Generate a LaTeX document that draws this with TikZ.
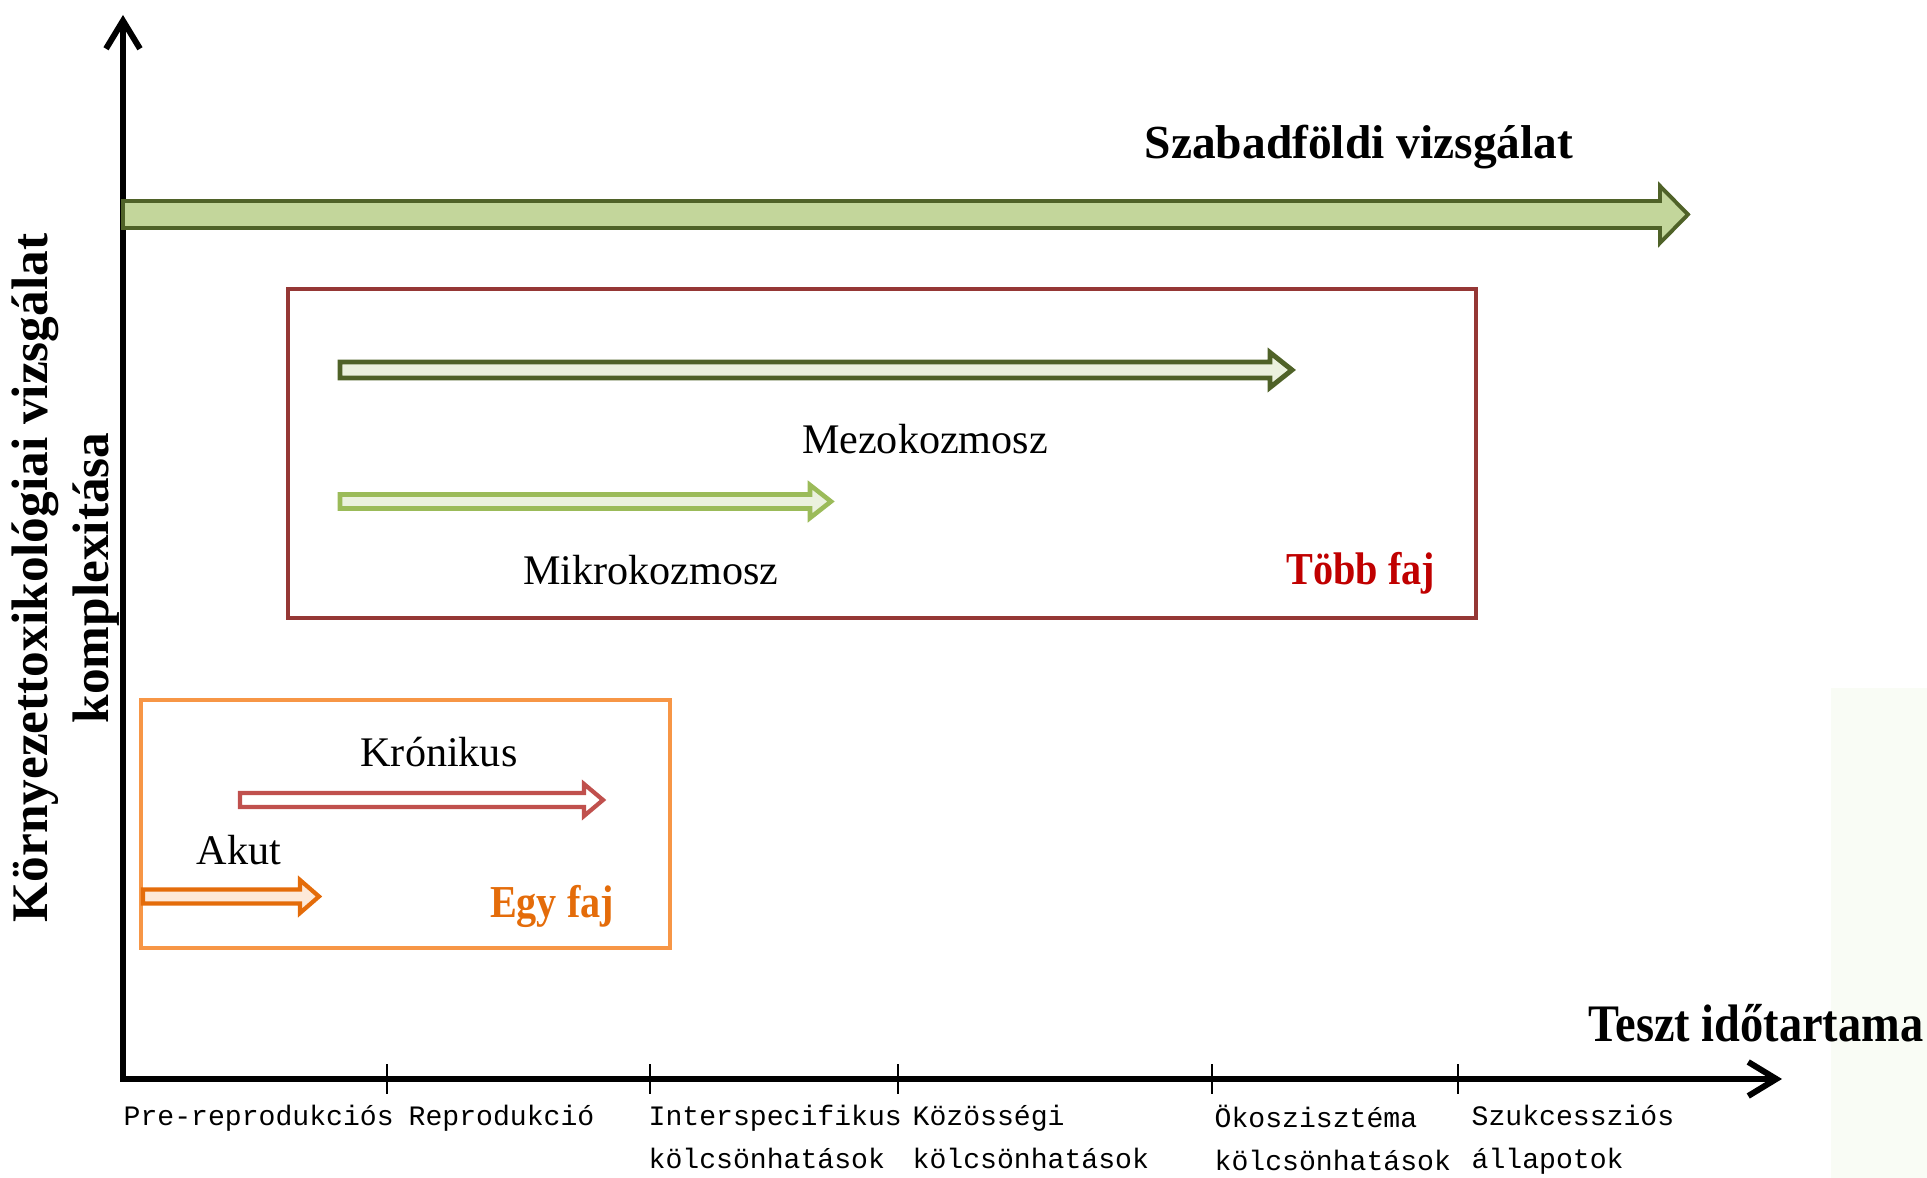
\documentclass[tikz,border=0pt]{standalone}
\usepackage{fontspec}
\setmainfont{Liberation Serif}
\newfontfamily\tickfont{Liberation Mono}
\newfontfamily\narrowfont[FakeStretch=0.88]{Liberation Serif}
\usetikzlibrary{arrows.meta}

\definecolor{olivedark}{HTML}{4F6228}
\definecolor{olivefill}{HTML}{C3D69B}
\definecolor{olivelight}{HTML}{9BBB59}
\definecolor{palegreen}{HTML}{EBF1DE}
\definecolor{brickred}{HTML}{953735}
\definecolor{rosered}{HTML}{C0504D}
\definecolor{darkred}{HTML}{C00000}
\definecolor{orangebox}{HTML}{F79646}
\definecolor{orangedark}{HTML}{E46C0A}
\definecolor{orangepale}{HTML}{FDE9D9}
\definecolor{slidetint}{HTML}{F9FCF5}

% block arrow: style, x start, x tip, y, shaft half, head half, head length
\newcommand{\blockarrow}[7]{%
  \draw[#1] (#2,{#4-#5}) -- ({#3-#7},{#4-#5}) -- ({#3-#7},{#4-#6}) -- (#3,#4)
    -- ({#3-#7},{#4+#6}) -- ({#3-#7},{#4+#5}) -- (#2,{#4+#5}) -- cycle;}

\tikzset{
  axis/.style={line width=1.7pt, line join=miter,
    {Straight Barb[length=0.28cm,width=0.34cm]}-{Straight Barb[length=0.28cm,width=0.34cm]}},
  tickmark/.style={line width=0.5pt},
  ticklabel/.style={font=\tickfont\fontsize{8}{12.5}\selectfont,
    anchor=north west, align=left, inner sep=0pt},
  kind/.style={font=\fontsize{12}{14}\selectfont, inner sep=0pt},
  group/.style={font=\narrowfont\bfseries\fontsize{13}{15}\selectfont, inner sep=0pt},
  title/.style={font=\bfseries\fontsize{15}{15}\selectfont, inner sep=0pt}
}

\begin{document}
\begin{tikzpicture}
\useasboundingbox (0,0) rectangle (19.27,11.78);
\fill[slidetint] (18.31,0) rectangle (19.27,4.9);

% axes
\coordinate (origin) at (1.23,0.99);
\coordinate (ytop) at (1.23,11.63);
\coordinate (xend) at (17.82,0.99);
\draw[axis] (ytop) -- (origin) -- (xend);
\foreach \x [count=\i] in {3.87,6.50,8.98,12.12,14.58}
  \draw[tickmark] (\x,0.84) coordinate (t\i) -- (\x,1.14);

\node[ticklabel] (prerep) at (1.23,0.74) {Pre-reprodukciós};
\node[ticklabel] (rep) at (4.08,0.74) {Reprodukció};
\node[ticklabel] (inter) at (6.48,0.74) {Interspecifikus\\kölcsönhatások};
\node[ticklabel] (kozos) at (9.12,0.74) {Közösségi\\kölcsönhatások};
\node[ticklabel] (oko) at (12.14,0.74) {Ökoszisztéma\\kölcsönhatások};
\node[ticklabel] (szuk) at (14.71,0.74) {Szukcessziós\\állapotok};

\node[title, font=\narrowfont\bfseries\fontsize{15}{15}\selectfont, anchor=east] (xlabel) at (19.24,1.55) {Teszt időtartama};
\node[title, font=\bfseries\fontsize{14.6}{15}\selectfont, rotate=90, align=center] (ylabel) at (0.655,6.0)
  {Környezettoxikológiai vizsgálat\\[0.08cm]komplexitása};

% field test
\blockarrow{draw=olivedark, fill=olivefill, line width=1.1pt}{1.23}{16.88}{9.635}{0.135}{0.285}{0.28}
\node[title, font=\bfseries\fontsize{13.5}{15}\selectfont] (szabad) at (13.59,10.31) {Szabadföldi vizsgálat};

% several species
\draw[brickred, line width=1.2pt] (2.88,5.60) rectangle (14.76,8.89);
\blockarrow{draw=olivedark, fill=palegreen, line width=1.4pt}{3.40}{12.92}{8.08}{0.08}{0.175}{0.22}
\node[kind] (mezo) at (9.25,7.39) {Mezokozmosz};
\blockarrow{draw=olivelight, fill=palegreen, line width=1.3pt}{3.40}{8.31}{6.765}{0.07}{0.165}{0.21}
\node[kind] (mikro) at (6.51,6.08) {Mikrokozmosz};
\node[group, text=darkred] (tobb) at (13.61,6.05) {Több faj};

% single species
\draw[orangebox, line width=1.3pt] (1.41,2.30) rectangle (6.70,4.78);
\blockarrow{draw=rosered, fill=white, line width=1.2pt}{2.40}{6.03}{3.78}{0.07}{0.16}{0.19}
\node[kind] (kron) at (4.39,4.26) {Krónikus};
\blockarrow{draw=orangedark, fill=orangepale, line width=1.2pt}{1.43}{3.19}{2.815}{0.07}{0.165}{0.19}
\node[kind] (akut) at (2.39,3.28) {Akut};
\node[group, text=orangedark] (egy) at (5.52,2.72) {Egy faj};
\end{tikzpicture}
\end{document}
